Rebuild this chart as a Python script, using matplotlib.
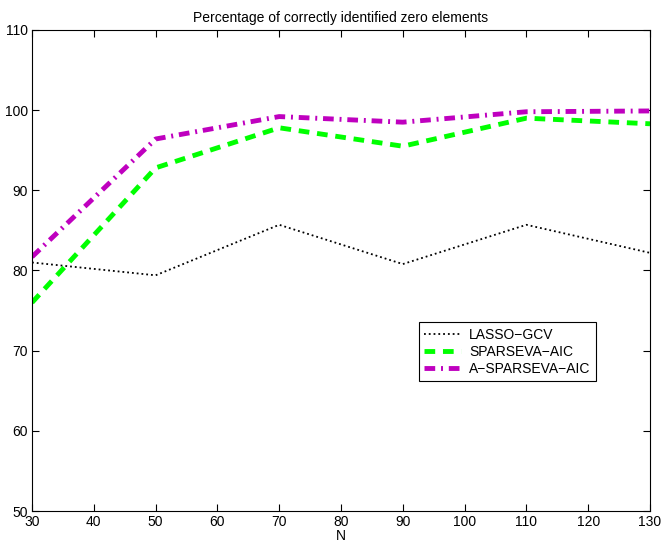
import numpy as np
import matplotlib
matplotlib.use("Agg")
import matplotlib.pyplot as plt

plt.rcParams['font.family'] = ['Liberation Sans', 'DejaVu Sans']

N = [30, 50, 70, 90, 110, 130]
lasso_gcv = [81.0, 79.4, 85.7, 80.8, 85.7, 82.2]
sparseva_aic = [76.0, 92.8, 97.8, 95.5, 99.0, 98.3]
a_sparseva_aic = [81.7, 96.4, 99.2, 98.5, 99.8, 99.9]

fig = plt.figure(figsize=(6.71, 5.43), dpi=100)
ax = fig.add_axes([0.0477, 0.0589, 0.9210, 0.8859])

ax.plot(N, lasso_gcv, color='k', linestyle=':', linewidth=1.3, label='LASSO\u2212GCV')
ax.plot(N, sparseva_aic, color='#00ff00', linestyle='--', linewidth=3.5,
        dashes=(2.2, 1.6), label='SPARSEVA\u2212AIC')
ax.plot(N, a_sparseva_aic, color='#bf00bf', linestyle='-.', linewidth=3.5,
        dashes=(2.2, 1.2, 0.4, 1.2), label='A\u2212SPARSEVA\u2212AIC')

ax.set_xlim(30, 130)
ax.set_ylim(50, 110)
ax.set_xticks(np.arange(30, 131, 10))
ax.set_yticks(np.arange(50, 111, 10))
ax.tick_params(direction='in', top=True, right=True, labelsize=10, length=5, pad=3)
ax.set_xlabel('N', fontsize=10, labelpad=0)
ax.set_title('Percentage of correctly identified zero elements', fontsize=10, pad=6)

leg = ax.legend(loc='lower left', bbox_to_anchor=(0.626, 0.270), fontsize=10,
                fancybox=False, framealpha=1, edgecolor='k', borderpad=0.4,
                borderaxespad=0, handlelength=2.6, handletextpad=0.6,
                labelspacing=0.2)
leg.get_frame().set_linewidth(0.8)

fig.savefig('out.png', dpi=100)
